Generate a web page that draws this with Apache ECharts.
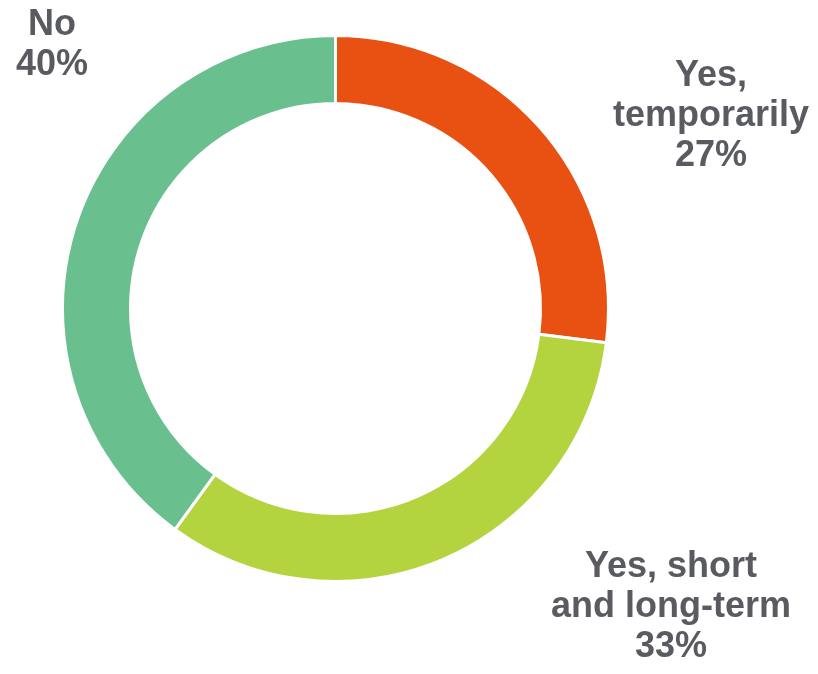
<!DOCTYPE html>
<html>
<head>
<meta charset="utf-8">
<script src="https://cdn.jsdelivr.net/npm/echarts@6/dist/echarts.min.js"></script>
<style>
html,body{margin:0;padding:0;background:#fff;}
#chart{width:818px;height:674px;}
</style>
</head>
<body>
<div id="chart"></div>
<script>
var categories = ["Yes,\ntemporarily", "Yes, short\nand long-term", "No"];
var values = [27, 33, 40];
var colors = ["#E85112", "#B3D33F", "#6ABF8F"];

var labelPos = [[711, 116], [671, 607], [52, 45]];

var chart = echarts.init(document.getElementById('chart'));
chart.setOption({
  animation: false,
  series: [{
    type: 'pie',
    center: [335.5, 308.5],
    radius: [205, 273],
    startAngle: 90,
    clockwise: true,
    avoidLabelOverlap: false,
    data: categories.map(function (c, i) {
      return { name: c, value: values[i], itemStyle: { color: colors[i] } };
    }),
    itemStyle: { borderColor: '#ffffff', borderWidth: 3 },
    label: {
      show: true,
      position: 'outside',
      overflow: 'none',
      width: 300,
      formatter: function (p) { return p.name + '\n' + p.value + '%'; },
      fontFamily: 'Liberation Sans, Arial, sans-serif',
      fontWeight: 'bold',
      fontSize: 36,
      lineHeight: 40,
      color: '#595B60',
      align: 'center'
    },
    labelLine: { show: false },
    labelLayout: function (params) {
      var p = labelPos[params.dataIndex];
      return { x: p[0], y: p[1], align: 'center', verticalAlign: 'middle', hideOverlap: false };
    }
  }]
});
</script>
</body>
</html>
